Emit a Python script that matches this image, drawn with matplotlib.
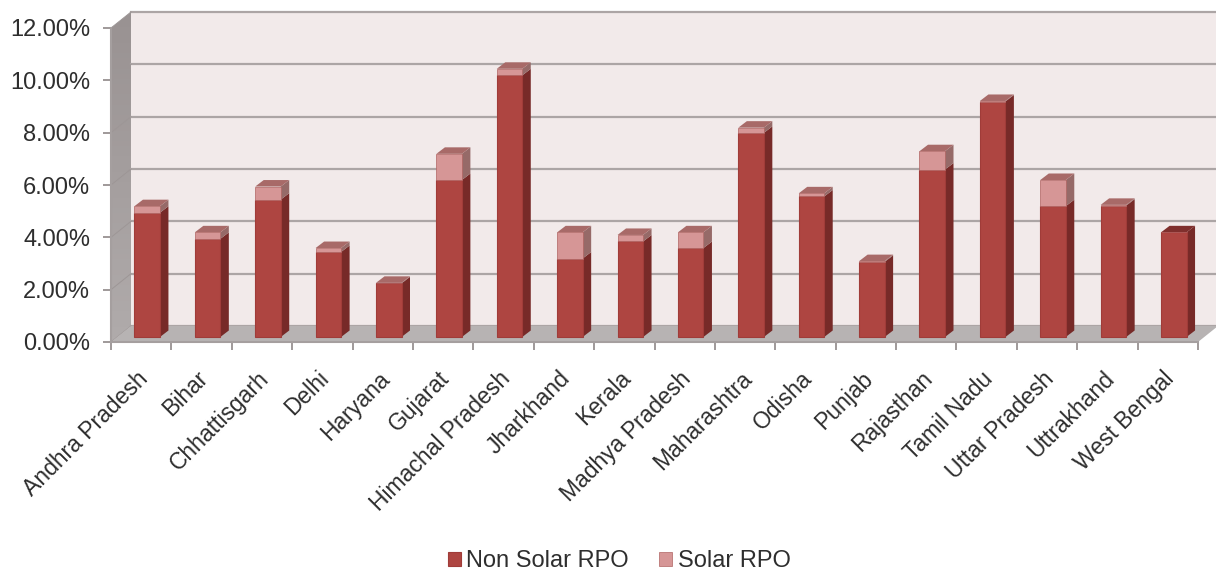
import matplotlib
matplotlib.use('Agg')
import matplotlib.pyplot as plt
import numpy as np
from matplotlib.colors import LinearSegmentedColormap
from matplotlib.patches import Polygon
from matplotlib.transforms import Affine2D

plt.rcParams['font.family'] = ['Liberation Sans', 'DejaVu Sans']

states = ['Andhra Pradesh', 'Bihar', 'Chhattisgarh', 'Delhi', 'Haryana', 'Gujarat',
          'Himachal Pradesh', 'Jharkhand', 'Kerala', 'Madhya Pradesh', 'Maharashtra',
          'Odisha', 'Punjab', 'Rajasthan', 'Tamil Nadu', 'Uttar Pradesh', 'Uttrakhand',
          'West Bengal']
non_solar = [4.75, 3.75, 5.25, 3.25, 2.05, 6.0, 10.0, 3.0, 3.65, 3.4, 7.8,
             5.37, 2.87, 6.4, 9.0, 5.0, 5.02, 4.0]
solar = [0.25, 0.25, 0.5, 0.15, 0.02, 1.0, 0.25, 1.0, 0.25, 0.6, 0.2,
         0.12, 0.03, 0.7, 0.02, 1.0, 0.03, 0.0]
y_ticks = [0, 2, 4, 6, 8, 10, 12]

W, H = 1216, 571
PX_X = (1198 - 111) / 18   # pixels per category
PX_Y = (342 - 28) / 12     # pixels per percent

fig = plt.figure(figsize=(W / 100, H / 100), dpi=100, facecolor='white')
ax = fig.add_axes([111 / W, 1 - 342 / H, (1198 - 111) / W, (342 - 28) / H])
ax.patch.set_visible(False)

# depth of the box, in data units
dx = 20 / PX_X
dy = 16 / PX_Y
x0, x1 = -0.5, 17.5


def face(points, color, z, edge='none', lw=0, transform=None):
    patch = Polygon(points, closed=True, facecolor=color, edgecolor=edge, linewidth=lw,
                    zorder=z, clip_on=False,
                    transform=transform if transform is not None else ax.transData)
    ax.add_patch(patch)
    return patch


# back wall, side wall with a soft vertical shade, floor
face([(x0 + dx, dy), (x1 + dx, dy), (x1 + dx, 12 + dy), (x0 + dx, 12 + dy)], '#f2eaea', 1)
wall = face([(x0, 0), (x0 + dx, dy), (x0 + dx, 12 + dy), (x0, 12)], 'none', 1)
wall_cmap = LinearSegmentedColormap.from_list('wall', ['#999292', '#b0abab'])
shade = ax.imshow(np.linspace(0, 1, 64).reshape(-1, 1), cmap=wall_cmap,
                  extent=(x0, x0 + dx, 0, 12 + dy), origin='upper', aspect='auto', zorder=1)
shade.set_clip_box(fig.bbox)
shade.set_clip_path(wall)
face([(x0, 0), (x1, 0), (x1 + dx, dy), (x0 + dx, dy)], '#b7b3b3', 3)

for t in y_ticks:
    ax.plot([x0 + dx, x1 + dx], [t + dy, t + dy], color='#aca5a5', lw=1.6, zorder=2, clip_on=False)
    ax.plot([x0, x0 + dx], [t, t + dy], color='#9d9696', lw=0.7, zorder=2, clip_on=False)

ax.set_xlim(x0, x1)
ax.set_ylim(0, 12)

# bars stand a little behind the front edge of the floor
bar_tf = ax.transData + Affine2D().translate(6, 5)
bar_w = 25.5 / PX_X
bdx = 8.5 / PX_X
bdy = 6.5 / PX_Y

FRONT = {'non': '#ae4541', 'sol': '#d69696'}
SIDE = {'non': '#772a28', 'sol': '#966a68'}
TOP = {'non': '#7f2f2d', 'sol': '#a86a68'}
EDGE = {'non': '#a03c39', 'sol': '#b06462'}

xs = list(range(len(states)))
bars_non = ax.bar(xs, non_solar, width=bar_w, color=FRONT['non'], edgecolor=EDGE['non'],
                  linewidth=0.8, transform=bar_tf, zorder=6, clip_on=False, label='Non Solar RPO')
bars_sol = ax.bar(xs, solar, width=bar_w, bottom=non_solar, color=FRONT['sol'], edgecolor=EDGE['sol'],
                  linewidth=0.5, transform=bar_tf, zorder=6, clip_on=False, label='Solar RPO')

for x, ns, s in zip(xs, non_solar, solar):
    left, right = x - bar_w / 2, x + bar_w / 2
    face([(right, 0), (right + bdx, bdy), (right + bdx, ns + bdy), (right, ns)],
         SIDE['non'], 5, transform=bar_tf)
    if s > 0:
        face([(right, ns), (right + bdx, ns + bdy), (right + bdx, ns + s + bdy), (right, ns + s)],
             SIDE['sol'], 5, transform=bar_tf)
    kind = 'sol' if s > 0 else 'non'
    top = ns + s
    face([(left, top), (right, top), (right + bdx, top + bdy), (left + bdx, top + bdy)],
         TOP[kind], 5, transform=bar_tf)

# axes: value ticks at the labels, category ticks between the bars
for side in ('top', 'right'):
    ax.spines[side].set_visible(False)
for side in ('left', 'bottom'):
    ax.spines[side].set_color('#a59f9f')
    ax.spines[side].set_linewidth(1.5)
    ax.spines[side].set_zorder(4)

ax.set_yticks(y_ticks)
ax.set_yticklabels([f'{t:.2f}%' for t in y_ticks])
ax.tick_params(axis='y', length=6, width=1.2, color='#8f8888', labelsize=17,
               labelcolor='#2e2e2e', pad=9)

ax.set_xticks([x - 0.5 for x in xs] + [17.5], minor=True)
ax.tick_params(axis='x', which='minor', length=6, width=1.2, color='#8f8888')
ax.set_xticks(xs)
ax.set_xticklabels(states, rotation=45, ha='right', va='top', rotation_mode='anchor')
ax.tick_params(axis='x', which='major', length=0, labelsize=16.5, labelcolor='#2e2e2e', pad=18)
for label in ax.get_xticklabels():
    label.set_transform(label.get_transform() + Affine2D().translate(-5, 0))

fig.legend(handles=[bars_non, bars_sol], loc='center', bbox_to_anchor=(619 / W, 1 - 561 / H), ncols=2,
           frameon=False, fontsize=17, labelcolor='#2e2e2e', handlelength=0.55, handleheight=0.55,
           handletextpad=0.25, columnspacing=1.25)

fig.savefig('out.png', dpi=100)
